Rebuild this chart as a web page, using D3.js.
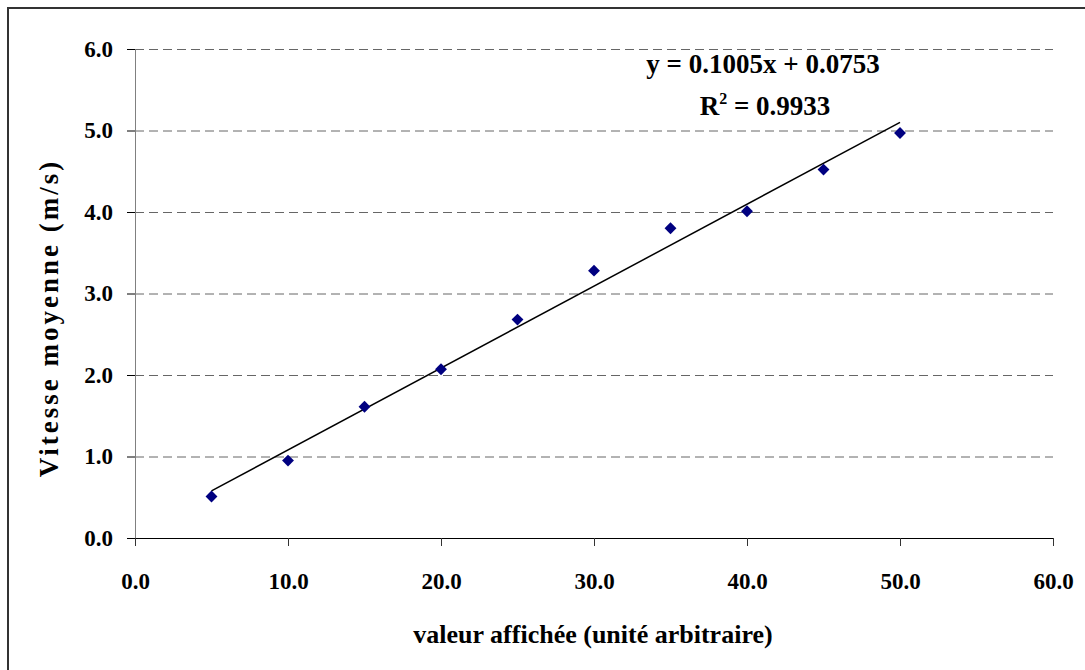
<!DOCTYPE html>
<html>
<head>
<meta charset="utf-8">
<script src="https://cdn.jsdelivr.net/npm/d3@7"></script>
<style>
  body { margin: 0; background: #fff; }
  text { font-family: "Liberation Serif", "DejaVu Serif", serif; font-weight: bold; fill: #000; }
</style>
</head>
<body>
<svg id="chart" width="1085" height="670"></svg>
<script>
// data
const xValues = [5, 10, 15, 20, 25, 30, 35, 40, 45, 50];
const yValues = [0.51, 0.95, 1.61, 2.07, 2.68, 3.28, 3.80, 4.01, 4.52, 4.97];
const xTicks = [0, 10, 20, 30, 40, 50, 60];
const yTicks = [0, 1, 2, 3, 4, 5, 6];
const slope = 0.1005, intercept = 0.0753, r2 = 0.9933;

const svg = d3.select("#chart");
const plotLeft = 135, plotRight = 1053, plotTop = 49, plotBottom = 538;

const x = d3.scaleLinear().domain([0, 60]).range([plotLeft, plotRight]);
const y = d3.scaleLinear().domain([0, 6]).range([plotBottom, plotTop]);

// outer frame (only top and left edges are visible)
svg.append("rect")
  .attr("x", 8).attr("y", 8).attr("width", 1200).attr("height", 800)
  .attr("fill", "none").attr("stroke", "#333").attr("stroke-width", 2);

// dashed grid
svg.append("g").selectAll("line")
  .data(yTicks.filter(d => d > 0))
  .enter().append("line")
  .attr("x1", plotLeft).attr("x2", plotRight)
  .attr("y1", d => y(d) + 0.5).attr("y2", d => y(d) + 0.5)
  .attr("stroke", "#666").attr("stroke-dasharray", "9,5");

// y axis
const yAxis = svg.append("g")
  .attr("transform", `translate(${plotLeft},0)`)
  .call(d3.axisLeft(y).tickValues(yTicks).tickFormat(d3.format(".1f")).tickSize(8).tickPadding(14));
yAxis.select(".domain").attr("stroke", "#808080");
yAxis.selectAll(".tick line").attr("stroke", "#000");
yAxis.selectAll("text").style("font-size", "23px");

// x axis
const xAxis = svg.append("g")
  .attr("transform", `translate(0,${plotBottom})`)
  .call(d3.axisBottom(x).tickValues(xTicks).tickFormat(d3.format(".1f")).tickSize(8).tickPadding(27));
xAxis.select(".domain").attr("stroke", "#000");
xAxis.selectAll(".tick line").attr("stroke", "#333");
xAxis.selectAll("text").style("font-size", "23px");

// trend line
const x0 = d3.min(xValues), x1 = d3.max(xValues);
svg.append("line")
  .attr("x1", x(x0)).attr("y1", y(slope * x0 + intercept))
  .attr("x2", x(x1)).attr("y2", y(slope * x1 + intercept))
  .attr("stroke", "#000").attr("stroke-width", 1.5);

// points
const diamond = d3.symbol().type(d3.symbolDiamond2).size(90);
svg.append("g").selectAll("path")
  .data(xValues.map((v, i) => [v, yValues[i]]))
  .enter().append("path")
  .attr("d", diamond)
  .attr("transform", d => `translate(${x(d[0])},${y(d[1])})`)
  .attr("fill", "#000080");

// equation
svg.append("text")
  .attr("x", 763).attr("y", 73).attr("text-anchor", "middle")
  .style("font-size", "27px")
  .text(`y = ${slope}x + ${intercept}`);
const rt = svg.append("text")
  .attr("x", 765).attr("y", 115).attr("text-anchor", "middle")
  .style("font-size", "27px");
rt.append("tspan").text("R");
rt.append("tspan").attr("dy", -11).style("font-size", "16px").text("2");
rt.append("tspan").attr("dy", 11).text(` = ${r2}`);

// axis titles
svg.append("text")
  .attr("x", 593).attr("y", 643).attr("text-anchor", "middle")
  .style("font-size", "26px")
  .text("valeur affichée (unité arbitraire)");
svg.append("text")
  .attr("transform", "translate(58,318) rotate(-90)")
  .attr("text-anchor", "middle")
  .style("font-size", "27px")
  .attr("letter-spacing", "3px")
  .text("Vitesse moyenne (m/s)");
</script>
</body>
</html>
